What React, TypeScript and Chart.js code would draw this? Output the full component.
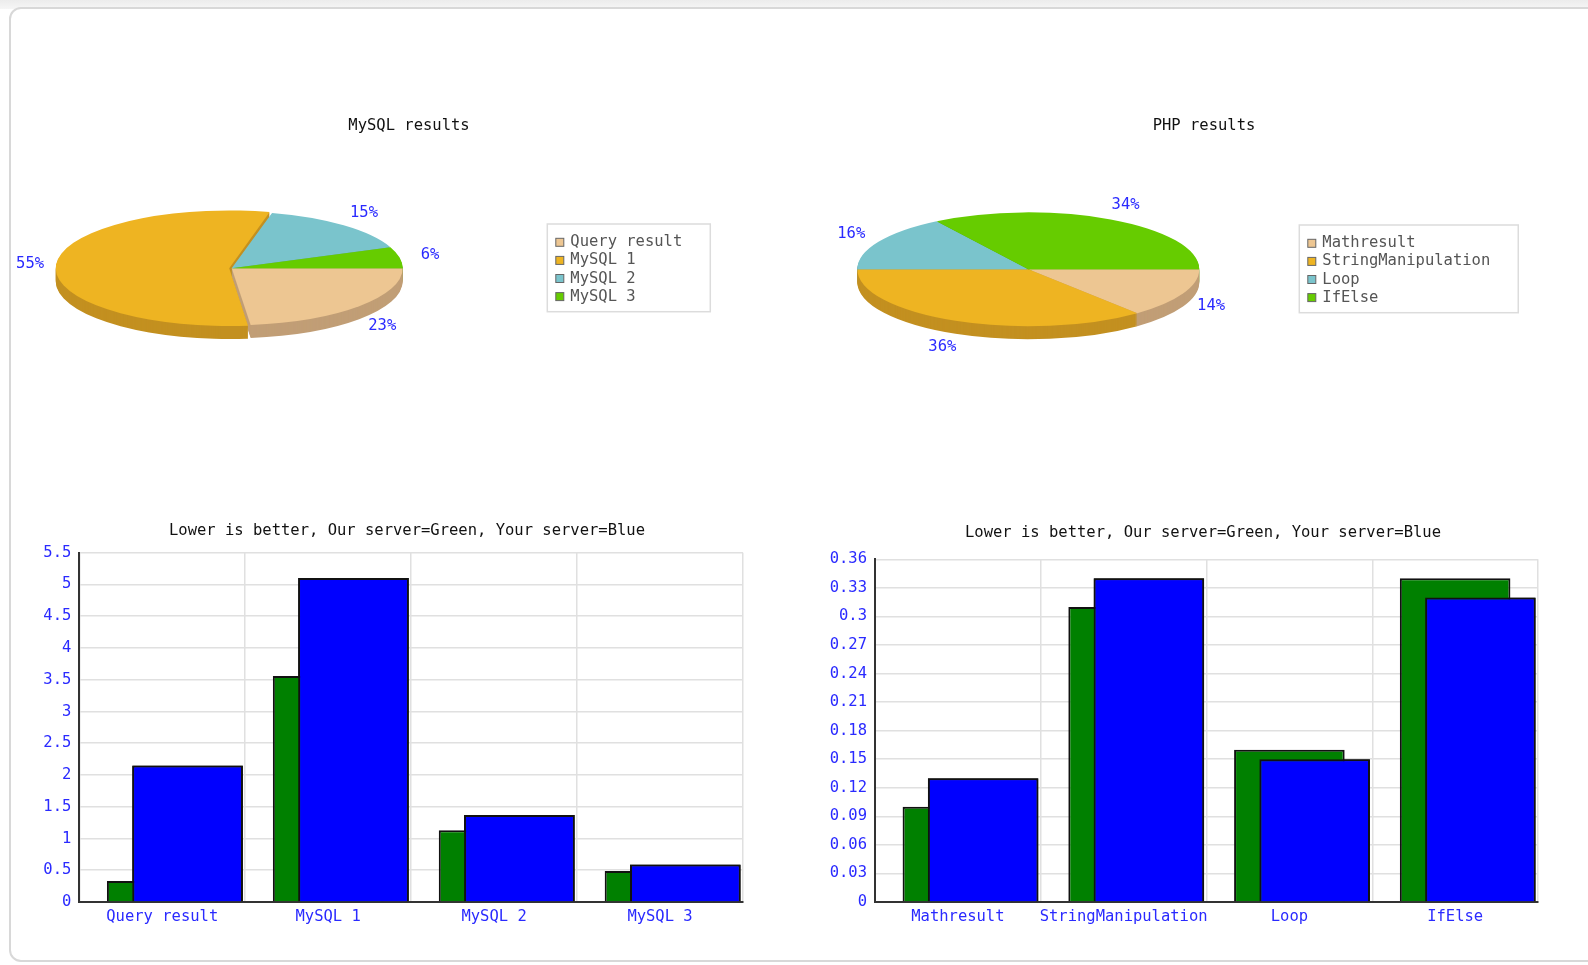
import React, { useEffect, useRef } from 'react';
import { Chart, registerables } from 'chart.js';

Chart.register(...registerables);

// ---------- data ----------
const MYSQL_CATEGORIES = ['Query result', 'MySQL 1', 'MySQL 2', 'MySQL 3'];
const MYSQL_PERCENT = [23, 55, 15, 6];
const MYSQL_OUR = [0.33, 3.56, 1.13, 0.49];
const MYSQL_YOUR = [2.15, 5.1, 1.37, 0.59];
const MYSQL_Y_MAX = 5.5;
const MYSQL_Y_STEP = 0.5;

const PHP_CATEGORIES = ['Mathresult', 'StringManipulation', 'Loop', 'IfElse'];
const PHP_PERCENT = [14, 36, 16, 34];
const PHP_OUR = [0.1, 0.31, 0.16, 0.34];
const PHP_YOUR = [0.13, 0.34, 0.15, 0.32];
const PHP_Y_MAX = 0.36;
const PHP_Y_STEP = 0.03;

const PIE_TITLES = ['MySQL results', 'PHP results'];
const BAR_TITLE = 'Lower is better, Our server=Green, Your server=Blue';
const SERIES_LABELS = ['Our server', 'Your server'];

// ---------- styles ----------
const FAMILY = '"DejaVu Sans Mono", monospace';
const FS = 15.5;
const FONT = `${FS}px ${FAMILY}`;
const TICK_BLUE = '#2a2aff';
const SLICE_COLORS = ['#EDC692', '#EEB422', '#7AC4CC', '#66CC00'];
const SIDE_COLORS = ['#C19E76', '#C39020', '#62A1A8', '#52A300'];
const GREEN = '#008000';
const BLUE = '#0000FF';
const GRID = '#e0e0e0';
const AXIS = '#333333';

// ---------- plugins ----------
const pie3d = {
  id: 'pie3d',
  beforeDatasetsDraw(chart: any, _a: any, opts: any) {
    const arcs = chart.getDatasetMeta(0).data;
    if (!arcs.length) return;
    const ctx = chart.ctx;
    const cy = arcs[0].y;
    const ratio = opts.ratio;
    for (let k = opts.depth; k >= 1; k--) {
      ctx.save();
      ctx.translate(0, cy + k);
      ctx.scale(1, ratio);
      ctx.translate(0, -cy);
      arcs.forEach((arc: any, i: number) => {
        const fake = Object.create(arc);
        fake.options = { ...arc.options, backgroundColor: SIDE_COLORS[i % SIDE_COLORS.length] };
        fake.draw(ctx);
      });
      ctx.restore();
    }
    ctx.save();
    ctx.translate(0, cy);
    ctx.scale(1, ratio);
    ctx.translate(0, -cy);
  },
  afterDatasetsDraw(chart: any) {
    chart.ctx.restore();
  },
  afterDraw(chart: any, _a: any, opts: any) {
    const ctx = chart.ctx;
    const arcs = chart.getDatasetMeta(0).data;
    const values = chart.data.datasets[0].data;
    const labels = chart.data.labels;
    ctx.save();
    // title
    ctx.font = FONT;
    ctx.fillStyle = '#111';
    ctx.textAlign = 'center';
    ctx.textBaseline = 'middle';
    ctx.fillText(opts.title, opts.titleX, opts.titleY);
    // percent labels
    ctx.fillStyle = TICK_BLUE;
    arcs.forEach((arc: any, i: number) => {
      const mid = (arc.startAngle + arc.endAngle) / 2;
      const c = Math.cos(mid);
      const s = Math.sin(mid);
      const R = arc.outerRadius;
      const x = arc.x + (R + 31) * c;
      const y = arc.y + (R * opts.ratio + 16) * s + (s > 0 ? opts.depth * s : 0);
      ctx.fillText(`${values[i]}%`, x, y);
    });
    // legend box
    ctx.font = FONT;
    let maxW = 0;
    labels.forEach((l: string) => { maxW = Math.max(maxW, ctx.measureText(l).width); });
    const bx = opts.legendX;
    const by = opts.legendY;
    const bw = 23 + maxW + 28;
    const rowH = 18.1;
    const bh = 87.7;
    ctx.fillStyle = '#fff';
    ctx.fillRect(bx, by, bw, bh);
    ctx.strokeStyle = '#dcdcdc';
    ctx.lineWidth = 1.5;
    ctx.strokeRect(bx, by, bw, bh);
    labels.forEach((l: string, i: number) => {
      const cyRow = by + 18.3 + i * rowH;
      ctx.fillStyle = SLICE_COLORS[i];
      ctx.fillRect(bx + 8.5, cyRow - 4, 8, 8);
      ctx.strokeStyle = '#666';
      ctx.lineWidth = 1;
      ctx.strokeRect(bx + 8.5, cyRow - 4, 8, 8);
      ctx.fillStyle = '#555';
      ctx.textAlign = 'left';
      ctx.fillText(l, bx + 23, cyRow);
    });
    ctx.restore();
  },
};

const barExtras = {
  id: 'barExtras',
  afterDatasetsDraw(chart: any, _a: any, opts: any) {
    const meta = chart.getDatasetMeta(opts.front);
    meta.data.forEach((el: any) => el.draw(chart.ctx));
  },
  afterDraw(chart: any, _a: any, opts: any) {
    const ctx = chart.ctx;
    ctx.save();
    ctx.font = FONT;
    ctx.fillStyle = '#111';
    ctx.textAlign = 'center';
    ctx.textBaseline = 'middle';
    ctx.fillText(opts.title, opts.titleX, opts.titleY);
    ctx.restore();
  },
};

// ---------- configs ----------
function pieConfig(labels: string[], values: number[], g: any): any {
  return {
    type: 'pie',
    data: {
      labels,
      datasets: [
        {
          data: values,
          backgroundColor: SLICE_COLORS,
          borderWidth: 0,
          offset: g.offsets,
          radius: g.r,
          clip: false,
        },
      ],
    },
    options: {
      responsive: false,
      animation: false,
      events: [],
      rotation: 90,
      layout: { padding: g.padding },
      plugins: {
        legend: { display: false },
        tooltip: { enabled: false },
        title: { display: false },
        pie3d: {
          ratio: 0.333,
          depth: 13,
          title: g.title,
          titleX: g.titleX,
          titleY: g.titleY,
          legendX: g.legendX,
          legendY: g.legendY,
        },
      },
    },
    plugins: [pie3d],
  };
}

function barConfig(labels: string[], our: number[], your: number[], yMax: number, yStep: number, g: any): any {
  const common = { categoryPercentage: 0.4575, barPercentage: 4.375 };
  const tickFont = { family: FAMILY, size: FS };
  return {
    type: 'bar',
    data: {
      labels,
      datasets: [
        { label: '', data: [], backgroundColor: 'rgba(0,0,0,0)', ...common },
        { label: SERIES_LABELS[0], data: our, backgroundColor: GREEN, borderColor: '#111', borderWidth: 2, ...common },
        { label: SERIES_LABELS[1], data: your, backgroundColor: BLUE, borderColor: '#111', borderWidth: 2, ...common },
      ],
    },
    options: {
      responsive: false,
      animation: false,
      events: [],
      layout: { padding: g.padding },
      scales: {
        x: {
          grid: { color: GRID, lineWidth: 1.5, drawTicks: false, offset: true },
          border: { color: AXIS, width: 2 },
          ticks: { color: TICK_BLUE, font: tickFont, padding: 6, autoSkip: false, maxRotation: 0, minRotation: 0 },
          afterFit(s: any) { s.height = 30; },
        },
        y: {
          min: 0,
          max: yMax,
          grid: { color: GRID, lineWidth: 1.5, drawTicks: false },
          border: { color: AXIS, width: 2 },
          ticks: {
            stepSize: yStep,
            color: TICK_BLUE,
            font: tickFont,
            padding: 8,
            callback: (v: any) => String(Number(Number(v).toFixed(2))),
          },
          afterFit(s: any) { s.width = 60; },
        },
      },
      plugins: {
        legend: { display: false },
        tooltip: { enabled: false },
        title: { display: false },
        barExtras: { front: 2, title: BAR_TITLE, titleX: g.titleX, titleY: g.titleY },
      },
    },
    plugins: [barExtras],
  };
}

// ---------- components ----------
function ChartCanvas(props: { left: number; top: number; width: number; height: number; make: () => any }) {
  const ref = useRef<HTMLCanvasElement>(null);
  useEffect(() => {
    const chart = new Chart(ref.current as HTMLCanvasElement, props.make());
    return () => chart.destroy();
  }, []);
  return (
    <canvas
      ref={ref}
      width={props.width}
      height={props.height}
      style={{ position: 'absolute', left: props.left, top: props.top, width: props.width, height: props.height }}
    />
  );
}

export default function App() {
  return (
    <div style={{ position: 'fixed', left: 0, top: 0, width: '100vw', height: '100vh', overflow: 'hidden', background: '#fff' }}>
      <div style={{ position: 'absolute', left: 0, top: 0, width: '100%', height: 9, background: 'linear-gradient(#ececec, #f6f6f6)' }} />
      <div
        style={{
          position: 'absolute',
          left: 9,
          top: 7,
          width: 1620,
          height: 955,
          boxSizing: 'border-box',
          border: '2px solid #d8d8d8',
          borderRadius: 12,
          background: '#fff',
        }}
      />
      <ChartCanvas
        left={12}
        top={60}
        width={780}
        height={430}
        make={() =>
          pieConfig(MYSQL_CATEGORIES, MYSQL_PERCENT, {
            r: 171,
            offsets: [0, 10, 0, 0],
            padding: { left: 44.7, right: 385.3, top: 33.3, bottom: 46.7 },
            title: PIE_TITLES[0],
            titleX: 397,
            titleY: 66,
            legendX: 535.3,
            legendY: 164,
          })
        }
      />
      <ChartCanvas
        left={800}
        top={60}
        width={785}
        height={430}
        make={() =>
          pieConfig(PHP_CATEGORIES, PHP_PERCENT, {
            r: 171,
            offsets: [0, 0, 0, 0],
            padding: { left: 53.3, right: 381.7, top: 34.3, bottom: 45.7 },
            title: PIE_TITLES[1],
            titleX: 404,
            titleY: 66,
            legendX: 499.3,
            legendY: 165,
          })
        }
      />
      <ChartCanvas
        left={12}
        top={500}
        width={780}
        height={450}
        make={() =>
          barConfig(MYSQL_CATEGORIES, MYSQL_OUR, MYSQL_YOUR, MYSQL_Y_MAX, MYSQL_Y_STEP, {
            padding: { left: 7.3, right: 49, top: 52.7, bottom: 18 },
            titleX: 395,
            titleY: 30.7,
          })
        }
      />
      <ChartCanvas
        left={800}
        top={500}
        width={785}
        height={450}
        make={() =>
          barConfig(PHP_CATEGORIES, PHP_OUR, PHP_YOUR, PHP_Y_MAX, PHP_Y_STEP, {
            padding: { left: 15, right: 47, top: 59.3, bottom: 18 },
            titleX: 403,
            titleY: 33,
          })
        }
      />
    </div>
  );
}
